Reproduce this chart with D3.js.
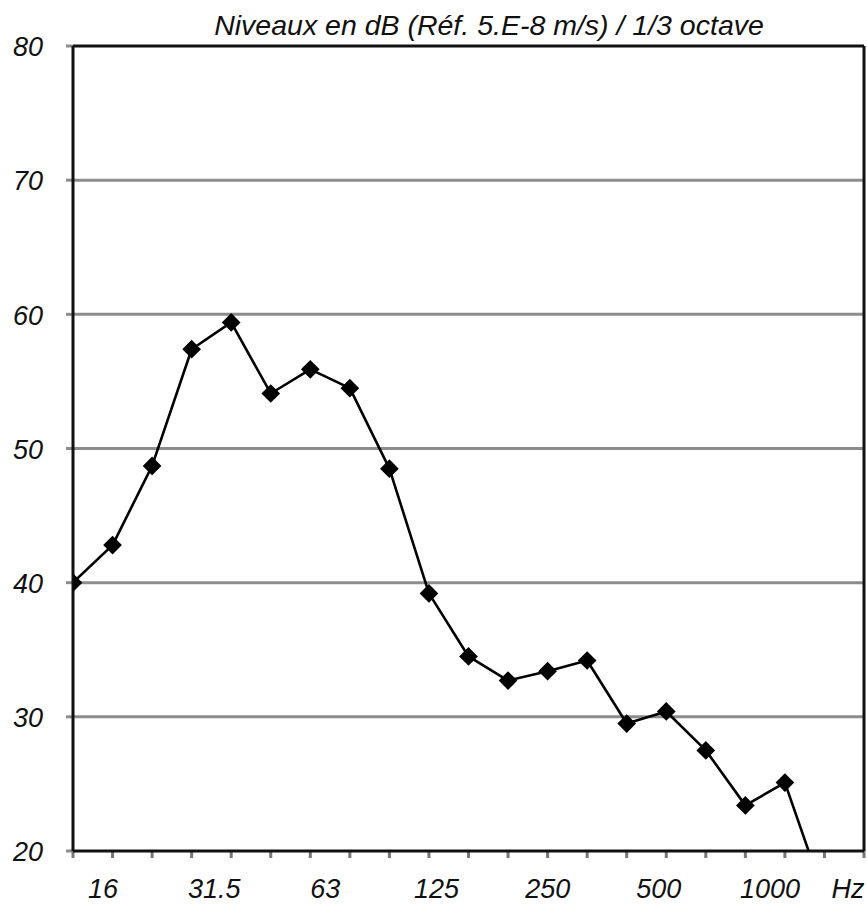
<!DOCTYPE html>
<html>
<head>
<meta charset="utf-8">
<script src="https://cdn.jsdelivr.net/npm/d3@7/dist/d3.min.js"></script>
<style>
  html, body { margin: 0; padding: 0; background: #fff; }
  svg { display: block; }
  text { font-family: "Liberation Sans", Arial, sans-serif; font-style: italic; fill: #111; }
</style>
</head>
<body>
<svg id="chart" width="867" height="904"></svg>
<script>
// ---- Data ----
const frequencies = ["12.5","16","20","25","31.5","40","50","63","80","100","125","160","200","250","315","400","500","630","800","1000","1250"];
const levels = [40.0, 42.8, 48.7, 57.4, 59.4, 54.1, 55.9, 54.5, 48.5, 39.2, 34.5, 32.7, 33.4, 34.2, 29.5, 30.4, 27.5, 23.4, 25.1, 16.6];
const xTickLabels = ["16","31.5","63","125","250","500","1000"];
const yTicks = [20, 30, 40, 50, 60, 70, 80];
const title = "Niveaux en dB (Réf. 5.E-8 m/s) / 1/3 octave";
const unitLabel = "Hz";

(function () {
// ---- Layout ----
const svg = d3.select("#chart");
const pLeft = 73, pRight = 864, pTop = 46, pBottom = 851;

const x = d3.scalePoint().domain(frequencies).range([pLeft, pRight]);
const y = d3.scaleLinear().domain([20, 80]).range([pBottom, pTop]);
const xLab = d3.scalePoint().domain(xTickLabels).range([103, 770]);

// clip
svg.append("defs").append("clipPath").attr("id", "plotclip")
  .append("rect").attr("x", pLeft).attr("y", pTop).attr("width", pRight - pLeft).attr("height", pBottom - pTop);

// gridlines
svg.append("g").selectAll("line")
  .data(yTicks.filter(d => d > 20 && d < 80))
  .join("line")
  .attr("x1", pLeft).attr("x2", pRight)
  .attr("y1", d => y(d)).attr("y2", d => y(d))
  .attr("stroke", "#8c8c8c").attr("stroke-width", 3);

// y-axis small ticks
svg.append("g").selectAll("line")
  .data(yTicks)
  .join("line")
  .attr("x1", pLeft - 7).attr("x2", pLeft)
  .attr("y1", d => y(d)).attr("y2", d => y(d))
  .attr("stroke", "#8c8c8c").attr("stroke-width", 3);

// x-axis small ticks
svg.append("g").selectAll("line")
  .data(frequencies)
  .join("line")
  .attr("x1", d => x(d)).attr("x2", d => x(d))
  .attr("y1", pBottom).attr("y2", pBottom + 7)
  .attr("stroke", "#777").attr("stroke-width", 3);

// frame
const frame = svg.append("g").attr("stroke", "#111").attr("stroke-width", 3).attr("fill", "none");
frame.append("line").attr("x1", pLeft).attr("x2", pRight).attr("y1", y(80)).attr("y2", y(80));
frame.append("line").attr("x1", pRight).attr("x2", pRight).attr("y1", y(80)).attr("y2", y(20));
frame.append("line").attr("x1", pLeft).attr("x2", pLeft).attr("y1", y(80)).attr("y2", y(20));
frame.append("line").attr("x1", pLeft).attr("x2", pRight).attr("y1", y(20)).attr("y2", y(20));

// line series
const pts = levels.map((v, i) => ({ f: frequencies[i], v }));
const gData = svg.append("g").attr("clip-path", "url(#plotclip)");
gData.append("path")
  .datum(pts)
  .attr("fill", "none")
  .attr("stroke", "#000")
  .attr("stroke-width", 2.6)
  .attr("stroke-linejoin", "round")
  .attr("d", d3.line().x(d => x(d.f)).y(d => y(d.v)));

// markers (diamonds)
const sym = d3.symbol().type(d3.symbolSquare).size(175);
gData.selectAll("path.m")
  .data(pts)
  .join("path")
  .attr("class", "m")
  .attr("d", sym)
  .attr("fill", "#000")
  .attr("transform", d => `translate(${x(d.f)},${y(d.v)}) rotate(45)`);

// y labels
svg.append("g").selectAll("text")
  .data(yTicks)
  .join("text")
  .attr("x", 43).attr("y", d => y(d))
  .attr("dy", "0.38em")
  .attr("text-anchor", "end")
  .attr("font-size", 27)
  .text(d => d);

// x labels
svg.append("g").selectAll("text")
  .data(xTickLabels)
  .join("text")
  .attr("x", d => xLab(d)).attr("y", 898)
  .attr("text-anchor", "middle")
  .attr("font-size", 27)
  .text(d => d);

svg.append("text")
  .attr("x", 848).attr("y", 898)
  .attr("text-anchor", "middle")
  .attr("font-size", 27)
  .text(unitLabel);

// title
svg.append("text")
  .attr("x", 489).attr("y", 35)
  .attr("text-anchor", "middle")
  .attr("font-size", 28.5)
  .text(title);
})();
</script>
</body>
</html>
